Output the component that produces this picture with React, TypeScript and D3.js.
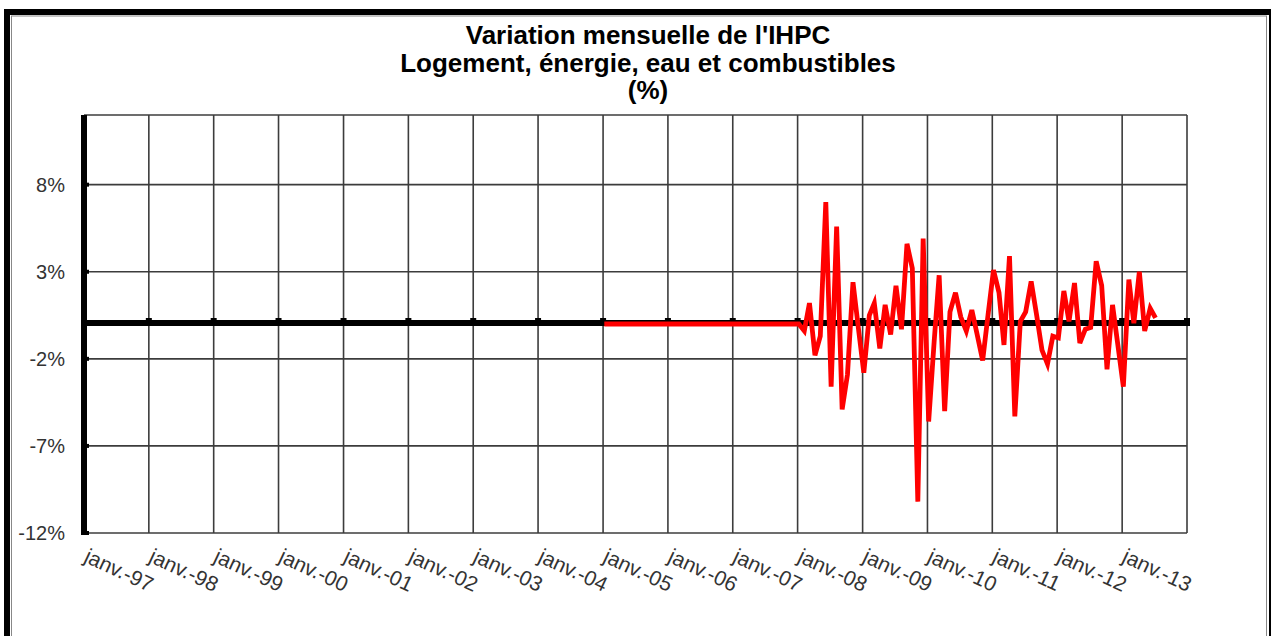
import React from "react";
import * as d3 from "d3";

const titleLines = ["Variation mensuelle de l'IHPC", "Logement, énergie, eau et combustibles", "(%)"];
const yTicks = [-12, -7, -2, 3, 8];
const yTickLabels = ["-12%", "-7%", "-2%", "3%", "8%"];
const xTickYears = [1997, 1998, 1999, 2000, 2001, 2002, 2003, 2004, 2005, 2006, 2007, 2008, 2009, 2010, 2011, 2012, 2013];
const xTickLabels = ["janv.-97", "janv.-98", "janv.-99", "janv.-00", "janv.-01", "janv.-02", "janv.-03", "janv.-04", "janv.-05", "janv.-06", "janv.-07", "janv.-08", "janv.-09", "janv.-10", "janv.-11", "janv.-12", "janv.-13"];

// monthly series, starting January 2005
const seriesStart = { year: 2005, month: 0 };
const seriesValues = [
  // 2005
  0, 0, 0, 0, 0, 0, 0, 0, 0, 0, 0, 0,
  // 2006
  0, 0, 0, 0, 0, 0, 0, 0, 0, 0, 0, 0,
  // 2007
  0, 0, 0, 0, 0, 0, 0, 0, 0, 0, 0, 0,
  // 2008
  0, -0.4, 1.2, -1.8, -0.7, 7.0, -3.6, 5.6, -4.9, -2.9, 2.4, -0.2,
  // 2009
  -2.8, 0.5, 1.2, -1.4, 1.1, -0.6, 2.2, -0.3, 4.6, 3.2, -10.2, 4.9,
  // 2010
  -5.6, -1.0, 2.8, -5.0, 0.7, 1.8, 0.4, -0.4, 0.8, -0.6, -2.1, 0.5,
  // 2011
  3.1, 1.8, -1.2, 3.9, -5.3, 0.15, 0.7, 2.45, 0.5, -1.5, -2.3, -0.7,
  // 2012
  -0.8, 1.9, 0.15, 2.35, -1.1, -0.3, -0.2, 3.6, 2.2, -2.6, 1.1, -1.2,
  // 2013
  -3.6, 2.55, 0.05, 3.0, -0.4, 0.9, 0.35,
];

const W = 1271;
const H = 636;
const plot = { left: 84, right: 1187, top: 115, bottom: 533 };
const FONT = "'Liberation Sans', Arial, sans-serif";

export default function App() {
  const x = d3
    .scaleTime()
    .domain([new Date(1997, 0, 1), new Date(2014, 0, 1)])
    .range([plot.left, plot.right]);
  const y = d3.scaleLinear().domain([-12, 12]).range([plot.bottom, plot.top]);

  const points = seriesValues.map((v, i) => ({
    date: new Date(seriesStart.year, seriesStart.month + i, 1),
    value: v,
  }));
  const line = d3
    .line<{ date: Date; value: number }>()
    .x((d) => x(d.date) + 1.2)
    .y((d) => y(d.value));

  const y0 = y(0) - 1;
  const gridColor = "#3c3c3c";

  return (
    <svg
      width={W}
      height={H}
      style={{ position: "absolute", left: 0, top: 0, background: "#fff" }}
      fontFamily={FONT}
    >
      <rect x={0} y={0} width={W} height={H} fill="#fff" />
      {/* outer frame */}
      <rect x={7} y={12} width={1265} height={700} fill="none" stroke="#000" strokeWidth={6} />
      <rect x={11.5} y={16} width={1255} height={700} fill="none" stroke="#888" strokeWidth={1} />

      {/* title */}
      {titleLines.map((t, i) => (
        <text
          key={i}
          x={648}
          y={44 + i * 27.5}
          textAnchor="middle"
          fontWeight="bold"
          fontSize={26}
          fill="#000"
        >
          {t}
        </text>
      ))}

      {/* horizontal grid */}
      {yTicks.map((t) => (
        <line key={"h" + t} x1={plot.left} x2={plot.right} y1={y(t)} y2={y(t)} stroke={gridColor} strokeWidth={1.6} />
      ))}
      <line x1={plot.left} x2={plot.right} y1={plot.top} y2={plot.top} stroke={gridColor} strokeWidth={1.6} />
      {/* vertical grid */}
      {xTickYears.map((yr) => (
        <line
          key={"v" + yr}
          x1={x(new Date(yr, 0, 1))}
          x2={x(new Date(yr, 0, 1))}
          y1={plot.top}
          y2={plot.bottom}
          stroke={gridColor}
          strokeWidth={1.6}
        />
      ))}
      <line x1={plot.right} x2={plot.right} y1={plot.top} y2={plot.bottom} stroke={gridColor} strokeWidth={1.6} />

      {/* zero axis */}
      <line x1={plot.left} x2={plot.right + 2} y1={y0} y2={y0} stroke="#000" strokeWidth={6} />
      {xTickYears.map((yr) => (
        <rect key={"t" + yr} x={x(new Date(yr, 0, 1)) - 3} y={y0 - 5} width={6} height={5} fill="#000" />
      ))}
      <rect x={plot.right - 3} y={y0 - 5} width={6} height={8} fill="#000" />

      {/* left axis */}
      <line x1={plot.left} x2={plot.left} y1={plot.top} y2={plot.bottom + 2} stroke="#000" strokeWidth={6} />
      {yTicks.map((t) => (
        <rect key={"yt" + t} x={plot.left} y={y(t) - 2} width={5} height={4} fill="#000" />
      ))}

      {/* y labels */}
      {yTicks.map((t, i) => (
        <text key={"yl" + t} x={65} y={y(t) + 7} textAnchor="end" fontSize={20} fill="#333">
          {yTickLabels[i]}
        </text>
      ))}

      {/* x labels */}
      {xTickYears.map((yr, i) => (
        <text
          key={"xl" + yr}
          transform={`translate(${x(new Date(yr, 0, 1)) + 6},${plot.bottom + 13}) rotate(25)`}
          dy="0.8em"
          fontSize={21}
          fill="#333"
        >
          {xTickLabels[i]}
        </text>
      ))}

      {/* series */}
      <path d={line(points) || ""} fill="none" stroke="#ff0000" strokeWidth={4.8} />
    </svg>
  );
}
